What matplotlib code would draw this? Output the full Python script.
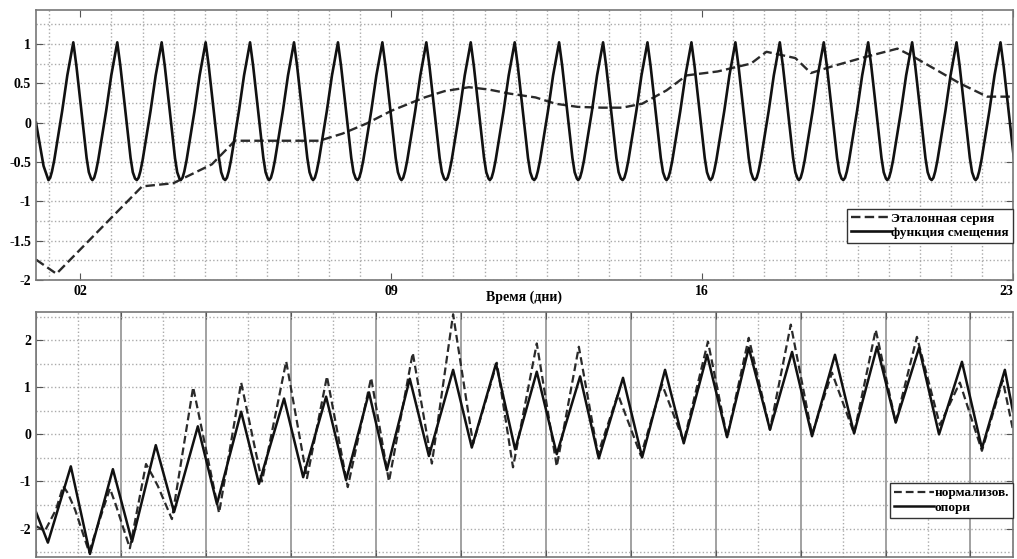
import numpy as np
import matplotlib
matplotlib.use("Agg")
import matplotlib.pyplot as plt
from matplotlib.ticker import MultipleLocator, FixedLocator

plt.rcParams['font.family'] = ['Liberation Serif', 'DejaVu Serif']
plt.rcParams['font.weight'] = 'bold'
plt.rcParams['axes.unicode_minus'] = False

# ---------------------------
# Dane - panel górny
# ---------------------------
# funkcja smeshcheniya: jeden okres (faza wzgledem szczytu, dni) i momenty szczytow
cycle_phase = [-0.56, -0.52, -0.48, -0.43, -0.25, -0.135, 0.0, 0.07, 0.30, 0.35, 0.40]
cycle_value = [-0.73, -0.70, -0.62, -0.48, 0.15, 0.60, 1.02, 0.72, -0.45, -0.63, -0.71]
peak_days = [1.84, 2.83, 3.83, 4.82, 5.82, 6.81, 7.80, 8.80, 9.79, 10.79, 11.78,
             12.78, 13.77, 14.77, 15.76, 16.75, 17.75, 18.74, 19.74, 20.73, 21.73, 22.72]
start_x = [1.0, 1.17]
start_y = [0.0, -0.55]
end_x = [23.04]
end_y = [-0.5]

# seria wzorcowa (przerywana)
ref_x = [1.0, 1.46, 3.39, 4.09, 4.96, 5.48, 7.38, 7.90, 8.45, 9.0, 9.75, 10.2,
         10.75, 11.2, 11.65, 12.25, 12.7, 13.2, 13.75, 14.2, 14.65, 15.2, 15.65,
         16.35, 17.1, 17.45, 18.1, 18.45, 18.9, 19.65, 20.4, 20.75, 21.8, 22.42, 23.0]
ref_y = [-1.74, -1.92, -0.81, -0.77, -0.53, -0.23, -0.23, -0.14, -0.01, 0.15,
         0.32, 0.40, 0.45, 0.42, 0.37, 0.32, 0.24, 0.20, 0.19, 0.19, 0.24, 0.41,
         0.60, 0.65, 0.75, 0.90, 0.82, 0.63, 0.71, 0.83, 0.94, 0.84, 0.50, 0.33, 0.33]

top_xticks = [2, 9, 16, 23]
top_xticklabels = ['02', '09', '16', '23']
top_yticks = [-2, -1.5, -1, -0.5, 0, 0.5, 1]
top_yticklabels = ['-2', '-1.5', '-1', '-0.5', '0', '0.5', '1']

# ---------------------------
# Dane - panel dolny
# ---------------------------
sup_x = [0.0, 0.28, 0.82, 1.27, 1.81, 2.26, 2.82, 3.25, 3.81, 4.26, 4.83, 5.25,
         5.84, 6.29, 6.83, 7.30, 7.84, 8.26, 8.80, 9.25, 9.82, 10.26, 10.83, 11.28,
         11.79, 12.26, 12.81, 13.25, 13.82, 14.27, 14.81, 15.25, 15.80, 16.27, 16.78,
         17.28, 17.80, 18.27, 18.81, 19.26, 19.80, 20.24, 20.79, 21.26, 21.80, 22.27,
         22.81, 23.0]
sup_y = [-1.65, -2.3, -0.68, -2.54, -0.74, -2.28, -0.23, -1.65, 0.17, -1.48, 0.48,
         -1.05, 0.76, -0.91, 0.80, -0.97, 0.89, -0.76, 1.18, -0.46, 1.37, -0.28, 1.50,
         -0.32, 1.33, -0.42, 1.23, -0.51, 1.20, -0.49, 1.37, -0.19, 1.69, -0.06, 1.84,
         0.10, 1.75, -0.04, 1.69, 0.02, 1.86, 0.25, 1.84, 0.0, 1.54, -0.30, 1.37, 0.49]

norm_x = [0.0, 0.21, 0.47, 0.64, 0.75, 0.92, 1.25, 1.74, 1.88, 2.21, 2.59, 2.75,
          2.87, 3.20, 3.70, 4.31, 4.83, 5.32, 5.89, 6.38, 6.85, 7.34, 7.89, 8.31,
          8.87, 9.32, 9.82, 10.29, 10.85, 11.23, 11.79, 12.26, 12.78, 13.23, 13.70,
          14.24, 14.74, 15.25, 15.82, 16.27, 16.78, 17.28, 17.77, 18.27, 18.74, 19.26,
          19.77, 20.24, 20.74, 21.28, 21.75, 22.27, 22.76, 23.0]
norm_y = [-1.95, -2.05, -1.6, -1.1, -1.25, -1.6, -2.5, -1.15, -1.5, -2.42, -0.63,
          -0.89, -1.1, -1.8, 1.0, -1.67, 1.1, -1.0, 1.55, -0.93, 1.23, -1.12, 1.2,
          -1.0, 1.73, -0.62, 2.55, -0.2, 1.52, -0.7, 1.93, -0.68, 1.86, -0.42, 0.85,
          -0.45, 1.06, -0.15, 1.97, -0.06, 2.05, 0.1, 2.33, 0.0, 1.31, 0.02, 2.22,
          0.25, 2.07, 0.2, 1.1, -0.35, 1.15, 0.1]

bot_yticks = [-2, -1, 0, 1, 2]

# ---------------------------
# Rysowanie
# ---------------------------
def style_axes(ax):
    for s in ax.spines.values():
        s.set_color('#777777')
        s.set_linewidth(1.2)
    ax.tick_params(which='both', direction='in', top=True, right=True,
                   colors='#555555', labelcolor='black', labelsize=10)
    ax.tick_params(which='major', length=5)
    ax.tick_params(which='minor', length=0)


fig = plt.figure(figsize=(10.17, 5.59), dpi=100)
ax1 = fig.add_axes([0.0354, 0.499, 0.9606, 0.483])
ax2 = fig.add_axes([0.0354, 0.004, 0.9606, 0.438])

# funkcja smeshcheniya z okresow
fx = list(start_x)
fy = list(start_y)
for p in peak_days:
    fx += [p + ph for ph in cycle_phase]
    fy += cycle_value
fx += end_x
fy += end_y

ax1.plot(ref_x, ref_y, color='#2a2a2a', lw=1.7, dashes=(4, 1.8), label='Эталонная серия')
ax1.plot(fx, fy, color='#111111', lw=1.9, label='функция смещения')
ax1.set_xlim(1.0, 23.0)
ax1.set_ylim(-2.0, 1.43)
ax1.xaxis.set_major_locator(FixedLocator(top_xticks))
ax1.set_xticklabels(top_xticklabels)
ax1.get_xticklabels()[-1].set_horizontalalignment('right')
ax1.xaxis.set_minor_locator(MultipleLocator(0.7, offset=0.6))
ax1.yaxis.set_major_locator(FixedLocator(top_yticks))
ax1.set_yticklabels(top_yticklabels)
ax1.yaxis.set_minor_locator(MultipleLocator(0.25))
ax1.grid(which='minor', axis='x', color='#aaaaaa', linestyle=':', lw=1)
ax1.grid(which='both', axis='y', color='#aaaaaa', linestyle=':', lw=1)
style_axes(ax1)
ax1.set_xlabel('Время (дни)', fontsize=10, fontweight='bold', labelpad=-5)
ax1.legend(loc='lower right', bbox_to_anchor=(1.0, 0.137), fontsize=9.5,
           frameon=True, fancybox=False, edgecolor='#333333', handlelength=3.0,
           handletextpad=0.05, borderpad=0.3, labelspacing=0.15, framealpha=1,
           borderaxespad=0)

ax2.plot(norm_x, norm_y, color='#2a2a2a', lw=1.6, dashes=(3.5, 1.8), label='нормализов.')
ax2.plot(sup_x, sup_y, color='#111111', lw=1.8, label='опори')
ax2.set_xlim(0, 23)
ax2.set_ylim(-2.6, 2.6)
ax2.xaxis.set_major_locator(MultipleLocator(2))
ax2.xaxis.set_minor_locator(MultipleLocator(1))
ax2.yaxis.set_major_locator(FixedLocator(bot_yticks))
ax2.yaxis.set_minor_locator(MultipleLocator(0.5))
ax2.grid(which='major', axis='x', color='#888888', linestyle='-', lw=1.1)
ax2.grid(which='minor', axis='x', color='#aaaaaa', linestyle=':', lw=1)
ax2.grid(which='both', axis='y', color='#aaaaaa', linestyle=':', lw=1)
style_axes(ax2)
ax2.tick_params(labelbottom=False)
ax2.legend(loc='lower right', bbox_to_anchor=(1.0, 0.16), fontsize=9.5,
           frameon=True, fancybox=False, edgecolor='#333333', handlelength=3.0,
           handletextpad=0.05, borderpad=0.3, labelspacing=0.15, framealpha=1,
           borderaxespad=0)

fig.savefig('out.png', dpi=100)
